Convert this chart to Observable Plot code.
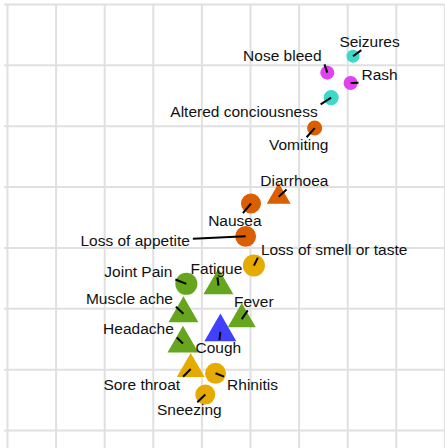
<!DOCTYPE html>
<html>
<head>
<meta charset="utf-8">
<script src="https://cdn.jsdelivr.net/npm/d3@7"></script>
<script src="https://cdn.jsdelivr.net/npm/@observablehq/plot@0.6"></script>
<style>
  html, body { margin: 0; padding: 0; background: #fff; }
  #chart svg { display: block; }
</style>
</head>
<body>
<div id="chart"></div>
<script>
// ---- data ----
const symptoms = ["Seizures","Nose bleed","Rash","Altered conciousness","Vomiting","Diarrhoea","Nausea",
  "Loss of appetite","Loss of smell or taste","Joint Pain","Fatigue","Muscle ache","Fever","Headache",
  "Cough","Sore throat","Rhinitis","Sneezing"];
const dim1 = [7.11, 6.58, 7.06, 6.66, 6.32, 5.58, 5.01, 4.90, 5.07, 3.68, 4.34, 3.62, 4.82, 3.61, 4.38, 3.77, 4.28, 4.07];
const dim2 = [6.15, 5.88, 5.71, 5.47, 4.97, 3.84, 3.73, 3.19, 2.71, 2.41, 2.38, 1.92, 1.83, 1.43, 1.62, 1.01, 0.94, 0.59];
const groups = ["Neurological","Skin/bleeding","Skin/bleeding","Neurological","Gastrointestinal","Gastrointestinal",
  "Gastrointestinal","Gastrointestinal","Upper respiratory","Systemic","Systemic","Systemic","Systemic","Systemic",
  "Lower respiratory","Upper respiratory","Upper respiratory","Upper respiratory"];
const kinds = ["Other","Other","Other","Other","Other","Core","Other","Other","Other","Other","Core","Core","Core","Core",
  "Core","Core","Other","Other"];
const prevalence = [22, 25, 25, 29, 29, 40, 51, 56, 62, 62, 63, 63, 55, 67, 72, 55, 56, 51];
const gridXTicks = [0,1,2,3,4,5,6,7,8,9];
const gridYTicks = [0,1,2,3,4,5,6,7];

// label layout (pixel nudges from the point, like ggrepel output)
const labelNudge = [[16.5,-14.1],[-45,-16.3],[29,-8.3],[-87.2,14.7],[-16,17.2],[15.7,-15.3],[-16.1,17.7],
  [-110.5,5],[80.2,-16],[-48,-12.3],[-2,-16.3],[-54,-15],[12,-16.7],[-44.5,-14],[-2,16.3],[-49,15.7],[37,11.3],[-16,15.7]];

const groupDomain = ["Gastrointestinal","Neurological","Skin/bleeding","Systemic","Upper respiratory","Lower respiratory"];
const groupColors = ["#D95F02","#3ED8CB","#E042F0","#66A61E","#E6AB02","#4040FF"];

// ---- scales ----
const W = 445, H = 448;
const xDomain = [0, 9], xRange = [7, 444.4];
const yDomain = [0, 7], yRange = [430, 4];
const xs = d3.scaleLinear(xDomain, xRange);
const ys = d3.scaleLinear(yDomain, yRange);

const fontSize = 15.5;
const fontFamily = "'Liberation Sans', Arial, Helvetica, sans-serif";
const ctx = document.createElement("canvas").getContext("2d");
ctx.font = `${fontSize}px ${fontFamily}`;

// ggrepel-like connection: nearest point of the label box, nudged halfway to the box centre
function connect(px, py, lx, ly, w) {
  const x1 = lx - w / 2 - 3, x2 = lx + w / 2 + 3, y1 = ly - 8, y2 = ly + 8;
  let ex, ey, inX = false, inY = false;
  if (px < x1) ex = x1; else if (px > x2) ex = x2; else { ex = px; inX = true; }
  if (py < y1) ey = y1; else if (py > y2) ey = y2; else { ey = py; inY = true; }
  if (inX && inY) return null;
  if (inX) ex = (ex + lx) / 2;
  if (inY) ey = (ey + ly) / 2;
  return [ex, ey];
}

const data = symptoms.map((name, i) => {
  const px = xs(dim1[i]), py = ys(dim2[i]);
  const lx = px + labelNudge[i][0], ly = py + labelNudge[i][1];
  const w = ctx.measureText(name).width;
  const e = connect(px, py, lx, ly, w);
  return {
    name, x: dim1[i], y: dim2[i], group: groups[i], kind: kinds[i], value: prevalence[i],
    lx: xs.invert(lx), ly: ys.invert(ly),
    ex: e ? xs.invert(e[0]) : null, ey: e ? ys.invert(e[1]) : null, seg: !!e
  };
});

const chart = Plot.plot({
  width: W, height: H,
  marginTop: 0, marginRight: 0, marginBottom: 0, marginLeft: 0,
  x: {domain: xDomain, range: xRange, axis: null},
  y: {domain: yDomain, range: yRange, axis: null},
  r: {type: "sqrt", domain: [0, 100], range: [0, 14]},
  color: {domain: groupDomain, range: groupColors},
  symbol: {domain: ["Other", "Core"], range: ["circle", "triangle"]},
  style: {fontFamily, background: "#fff"},
  marks: [
    Plot.ruleX(gridXTicks, {x: d => d, y1: ys.invert(H), y2: yDomain[1], stroke: "#e0e0e0", strokeWidth: 2}),
    Plot.ruleY(gridYTicks, {y: d => d, x1: xs.invert(4), x2: xDomain[1], stroke: "#e0e0e0", strokeWidth: 2}),
    Plot.dot(data, {x: "x", y: "y", r: "value", fill: "group", symbol: "kind", stroke: "none"}),
    Plot.link(data.filter(d => d.seg), {x1: "x", y1: "y", x2: "ex", y2: "ey", stroke: "#000", strokeWidth: 2}),
    Plot.text(data, {x: "lx", y: "ly", text: "name", fontSize, fill: "#111", textAnchor: "middle", lineAnchor: "middle"})
  ]
});
document.getElementById("chart").appendChild(chart);
</script>
</body>
</html>
